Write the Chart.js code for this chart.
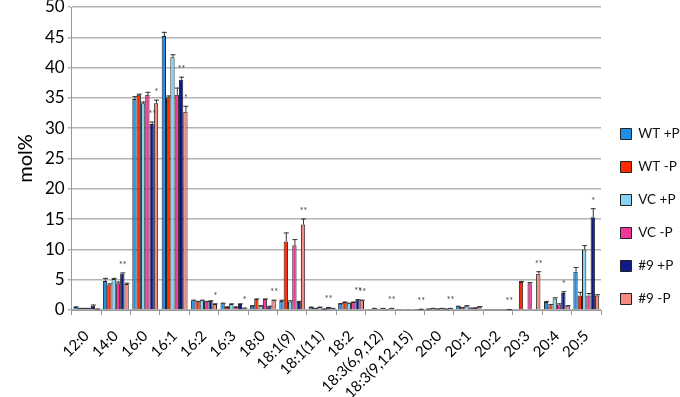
<!DOCTYPE html>
<html>
<head>
<meta charset="utf-8">
<script src="https://cdn.jsdelivr.net/npm/chart.js@4.4.0/dist/chart.umd.min.js"></script>
<style>
  html, body { margin: 0; padding: 0; background: #fff; }
  #wrap { width: 680px; height: 397px; }
</style>
</head>
<body>
<div id="wrap"><canvas id="fattyChart"></canvas></div>
<script>
// fatty acid species on the x axis
const categories = ["12:0", "14:0", "16:0", "16:1", "16:2", "16:3", "18:0", "18:1(9)", "18:1(11)", "18:2",
  "18:3(6,9,12)", "18:3(9,12,15)", "20:0", "20:1", "20:2", "20:3", "20:4", "20:5"]
const yTicks = [0, 5, 10, 15, 20, 25, 30, 35, 40, 45, 50]

// mol% values
const wtPlus   = [0.5, 4.8, 34.8, 45.2, 1.6, 1.1, 0.7, 1.5, 0.5, 1.05, 0.05, 0.05, 0.2, 0.6, 0.05, 0.0, 1.3, 6.3]
const wtMinus  = [0.3, 4.2, 35.5, 35.1, 1.4, 0.5, 1.8, 11.3, 0.3, 1.3, 0.3, 0.1, 0.3, 0.4, 0.05, 4.6, 0.8, 2.4]
const vcPlus   = [0.3, 5.1, 34.1, 41.7, 1.6, 1.0, 0.7, 1.4, 0.5, 1.1, 0.05, 0.05, 0.2, 0.7, 0.05, 0.0, 1.9, 10.0]
const vcMinus  = [0.3, 4.4, 35.5, 35.5, 1.4, 0.5, 1.8, 10.7, 0.2, 1.3, 0.3, 0.1, 0.3, 0.3, 0.05, 4.4, 0.9, 2.4]
const n9Plus   = [0.7, 6.0, 30.7, 38.0, 1.5, 1.0, 0.6, 1.3, 0.45, 1.7, 0.05, 0.05, 0.2, 0.35, 0.05, 0.0, 2.8, 15.3]
const n9Minus  = [0.2, 4.3, 34.1, 32.7, 1.0, 0.3, 1.6, 14.1, 0.3, 1.6, 0.3, 0.15, 0.3, 0.55, 0.1, 6.0, 0.7, 2.4]

// error bars (SD), same order
const errWtPlus  = [0.1, 0.5, 0.5, 0.7, 0.1, 0.1, 0.1, 0.2, 0.05, 0.1, 0, 0, 0.05, 0.1, 0, 0, 0.2, 0.8]
const errWtMinus = [0.05, 0.2, 0.2, 0.3, 0.1, 0.1, 0.1, 1.5, 0.05, 0.1, 0.05, 0, 0.05, 0.1, 0, 0.2, 0.2, 0.6]
const errVcPlus  = [0.05, 0.2, 0.3, 0.5, 0.1, 0.1, 0.1, 0.2, 0.05, 0.1, 0, 0, 0.05, 0.1, 0, 0, 0.2, 0.7]
const errVcMinus = [0.05, 0.3, 0.5, 1.2, 0.1, 0.1, 0.1, 1.0, 0.05, 0.1, 0.05, 0, 0.05, 0.1, 0, 0.2, 0.2, 0.4]
const errN9Plus  = [0.2, 0.2, 0.4, 0.5, 0.1, 0.1, 0.1, 0.2, 0.05, 0.1, 0, 0, 0.05, 0.1, 0, 0, 0.3, 1.5]
const errN9Minus = [0.05, 0.2, 0.6, 1.0, 0.1, 0.1, 0.1, 1.0, 0.05, 0.1, 0.05, 0.05, 0.05, 0.1, 0.05, 0.4, 0.1, 0.2]

// significance marks over the #9 bars
const starsN9Plus  = ["", "**", "**", "**", "", "", "", "", "**", "**", "", "", "", "", "", "", "*", "*"]
const starsN9Minus = ["", "", "*", "*", "*", "*", "**", "**", "", "**", "**", "**", "**", "", "**", "**", "", ""]

const FONT = "Lato, 'Liberation Sans', sans-serif"

function makeSet(label, data, errors, color, stars) {
  return {
    label: label,
    data: data,
    errors: errors,
    stars: stars || [],
    backgroundColor: color,
    borderColor: "#222",
    borderWidth: 1,
    categoryPercentage: 0.88,
    barPercentage: 1.0
  }
}

// draws the error bars and the little stars on top of each bar
const errorBarPlugin = {
  id: "errorBars",
  afterDatasetsDraw(chart) {
    const ctx = chart.ctx
    const yScale = chart.scales.y
    ctx.save()
    chart.data.datasets.forEach((ds, i) => {
      const meta = chart.getDatasetMeta(i)
      meta.data.forEach((bar, j) => {
        const v = ds.data[j]
        const e = ds.errors[j] || 0
        const yTop = yScale.getPixelForValue(v + e)
        const yVal = yScale.getPixelForValue(v)
        if (e > 0) {
          ctx.strokeStyle = "#333"
          ctx.lineWidth = 1
          ctx.beginPath()
          ctx.moveTo(bar.x + 0.5, yVal)
          ctx.lineTo(bar.x + 0.5, yTop)
          ctx.moveTo(bar.x - 2, yTop + 0.5)
          ctx.lineTo(bar.x + 3, yTop + 0.5)
          ctx.stroke()
        }
        const s = ds.stars[j]
        if (s) {
          ctx.fillStyle = "#444"
          ctx.font = "9px " + FONT
          ctx.textAlign = "center"
          ctx.textBaseline = "bottom"
          ctx.fillText(s, bar.x + 0.5, yTop - 3)
        }
      })
    })
    ctx.restore()
  }
}

new Chart("fattyChart", {
  type: "bar",
  data: {
    labels: categories,
    datasets: [
      makeSet("WT +P", wtPlus, errWtPlus, "#1f8fe8"),
      makeSet("WT -P", wtMinus, errWtMinus, "#ff2a00"),
      makeSet("VC +P", vcPlus, errVcPlus, "#84d4f6"),
      makeSet("VC -P", vcMinus, errVcMinus, "#f2369b"),
      makeSet("#9 +P", n9Plus, errN9Plus, "#0c1a8c", starsN9Plus),
      makeSet("#9 -P", n9Minus, errN9Minus, "#f58a80", starsN9Minus)
    ]
  },
  options: {
    responsive: true,
    maintainAspectRatio: false,
    animation: false,
    layout: { padding: { top: 7, right: 0, bottom: 0, left: 10 } },
    plugins: {
      legend: {
        position: "right",
        maxWidth: 79,
        title: { display: true, text: "", font: { size: 10, lineHeight: 1 }, padding: { top: 10, bottom: 9 } },
        labels: {
          color: "#111",
          font: { family: FONT, size: 13.5 },
          boxWidth: 11,
          boxHeight: 11,
          padding: 19.5
        }
      },
      tooltip: { enabled: false }
    },
    scales: {
      x: {
        // keep the plot bottom where the original has it
        afterFit: axis => { axis.height = 87 },
        grid: { drawOnChartArea: false, drawTicks: true, tickLength: 5, color: "#999", offset: true },
        border: { color: "#999" },
        ticks: {
          color: "#000",
          font: { family: FONT, size: 15 },
          padding: 12,
          maxRotation: 45,
          minRotation: 45,
          autoSkip: false
        }
      },
      y: {
        min: 0,
        max: 50,
        afterBuildTicks: axis => { axis.ticks = yTicks.map(v => ({ value: v })) },
        // let the top tick label stick out above the plot, like the original
        afterFit: axis => { axis.paddingTop = 0 },
        grid: { color: "#b4b4b4", lineWidth: 1.5, tickLength: 4 },
        border: { color: "#999" },
        ticks: { color: "#000", font: { family: FONT, size: 17 }, padding: 3 },
        title: { display: true, text: "mol%", color: "#000", font: { family: FONT, size: 20 } }
      }
    }
  },
  plugins: [errorBarPlugin]
})
</script>
</body>
</html>
